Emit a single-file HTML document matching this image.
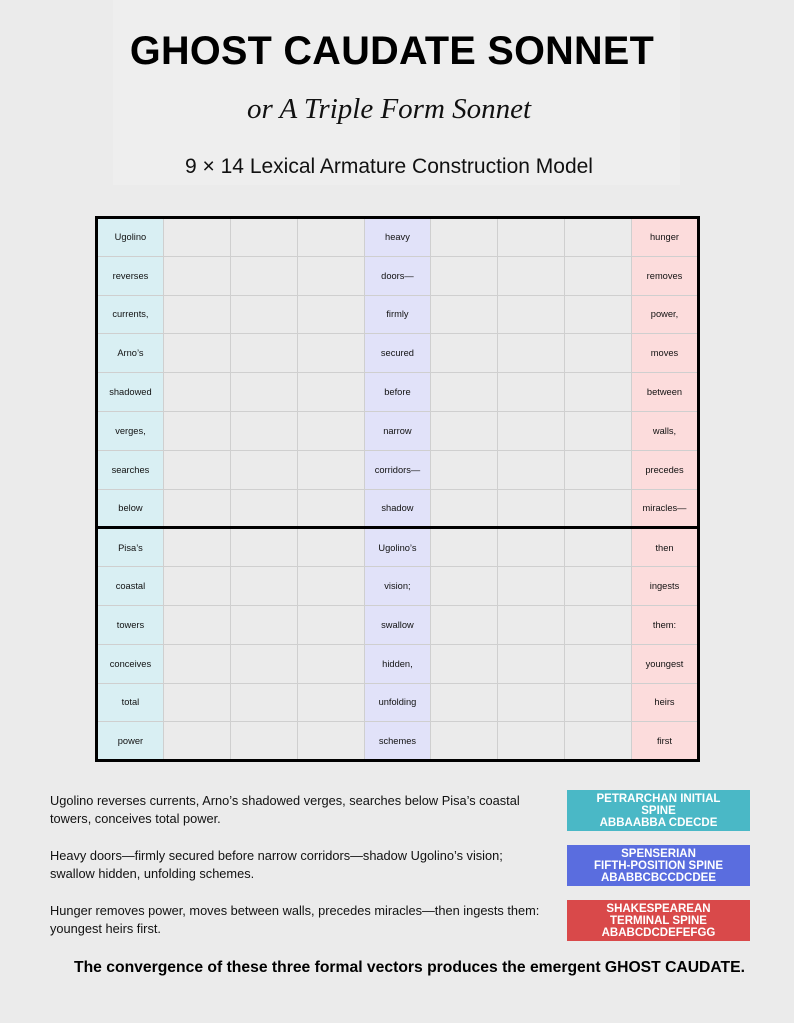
<!DOCTYPE html>
<html><head><meta charset="utf-8"><style>
*{margin:0;padding:0;box-sizing:border-box}
body{width:794px;height:1023px;background:#ebebeb;position:relative;font-family:"Liberation Sans",sans-serif;overflow:hidden}
.abs{position:absolute}
#panel{left:113px;top:0;width:567px;height:185px;background:#eeeeee}
#t1{left:0;width:784px;top:29px;text-align:center;font-weight:bold;font-size:39.6px;letter-spacing:0.3px;color:#000}
#t2{left:0;width:778px;top:93px;text-align:center;font-family:"Liberation Serif",serif;font-style:italic;font-size:29px;color:#111}
#t3{left:0;width:778px;top:155px;text-align:center;font-size:21px;color:#111}
table{position:absolute;left:95px;top:216px;width:605px;height:546px;border-collapse:collapse;border:3px solid #000;table-layout:fixed}
td{border:1px solid #cfcfcf;font-size:9.3px;text-align:center;vertical-align:middle;color:#111;height:38.8px}
td.c{background:#d9eff3}td.l{background:#e1e2f9}td.p{background:#fcdcdc}
tr.brk td{border-bottom:3px solid #000}
.p1{left:50px;font-size:12.8px;line-height:18px;color:#111;width:490px}
.box{left:567px;width:183px;height:41px;color:#fff;font-weight:bold;font-size:11.5px;line-height:12px;text-align:center;display:flex;align-items:center;justify-content:center}
#fin{left:0;width:794px;top:959px;text-align:center;font-weight:bold;font-size:15.7px;color:#000;padding-left:25px}
</style></head><body>
<div id="panel" class="abs"></div>
<div id="t1" class="abs">GHOST CAUDATE SONNET</div>
<div id="t2" class="abs">or A Triple Form Sonnet</div>
<div id="t3" class="abs">9 × 14 Lexical Armature Construction Model</div>
<table>
<tr><td class="c">Ugolino</td><td></td><td></td><td></td><td class="l">heavy</td><td></td><td></td><td></td><td class="p">hunger</td></tr>
<tr><td class="c">reverses</td><td></td><td></td><td></td><td class="l">doors—</td><td></td><td></td><td></td><td class="p">removes</td></tr>
<tr><td class="c">currents,</td><td></td><td></td><td></td><td class="l">firmly</td><td></td><td></td><td></td><td class="p">power,</td></tr>
<tr><td class="c">Arno’s</td><td></td><td></td><td></td><td class="l">secured</td><td></td><td></td><td></td><td class="p">moves</td></tr>
<tr><td class="c">shadowed</td><td></td><td></td><td></td><td class="l">before</td><td></td><td></td><td></td><td class="p">between</td></tr>
<tr><td class="c">verges,</td><td></td><td></td><td></td><td class="l">narrow</td><td></td><td></td><td></td><td class="p">walls,</td></tr>
<tr><td class="c">searches</td><td></td><td></td><td></td><td class="l">corridors—</td><td></td><td></td><td></td><td class="p">precedes</td></tr>
<tr class="brk"><td class="c">below</td><td></td><td></td><td></td><td class="l">shadow</td><td></td><td></td><td></td><td class="p">miracles—</td></tr>
<tr><td class="c">Pisa’s</td><td></td><td></td><td></td><td class="l">Ugolino’s</td><td></td><td></td><td></td><td class="p">then</td></tr>
<tr><td class="c">coastal</td><td></td><td></td><td></td><td class="l">vision;</td><td></td><td></td><td></td><td class="p">ingests</td></tr>
<tr><td class="c">towers</td><td></td><td></td><td></td><td class="l">swallow</td><td></td><td></td><td></td><td class="p">them:</td></tr>
<tr><td class="c">conceives</td><td></td><td></td><td></td><td class="l">hidden,</td><td></td><td></td><td></td><td class="p">youngest</td></tr>
<tr><td class="c">total</td><td></td><td></td><td></td><td class="l">unfolding</td><td></td><td></td><td></td><td class="p">heirs</td></tr>
<tr><td class="c">power</td><td></td><td></td><td></td><td class="l">schemes</td><td></td><td></td><td></td><td class="p">first</td></tr>
</table>
<div class="abs p1" style="top:792px">Ugolino reverses currents, Arno’s shadowed verges, searches below Pisa’s coastal towers, conceives total power.</div>
<div class="abs p1" style="top:847px">Heavy doors—firmly secured before narrow corridors—shadow Ugolino’s vision; swallow hidden, unfolding schemes.</div>
<div class="abs p1" style="top:902px">Hunger removes power, moves between walls, precedes miracles—then ingests them: youngest heirs first.</div>
<div class="abs box" style="top:790px;background:#4ab8c6">PETRARCHAN INITIAL<br>SPINE<br>ABBAABBA CDECDE</div>
<div class="abs box" style="top:845px;background:#5a6ddf">SPENSERIAN<br>FIFTH-POSITION SPINE<br>ABABBCBCCDCDEE</div>
<div class="abs box" style="top:900px;background:#d9494a">SHAKESPEAREAN<br>TERMINAL SPINE<br>ABABCDCDEFEFGG</div>
<div id="fin" class="abs">The convergence of these three formal vectors produces the emergent GHOST CAUDATE.</div>
</body></html>
